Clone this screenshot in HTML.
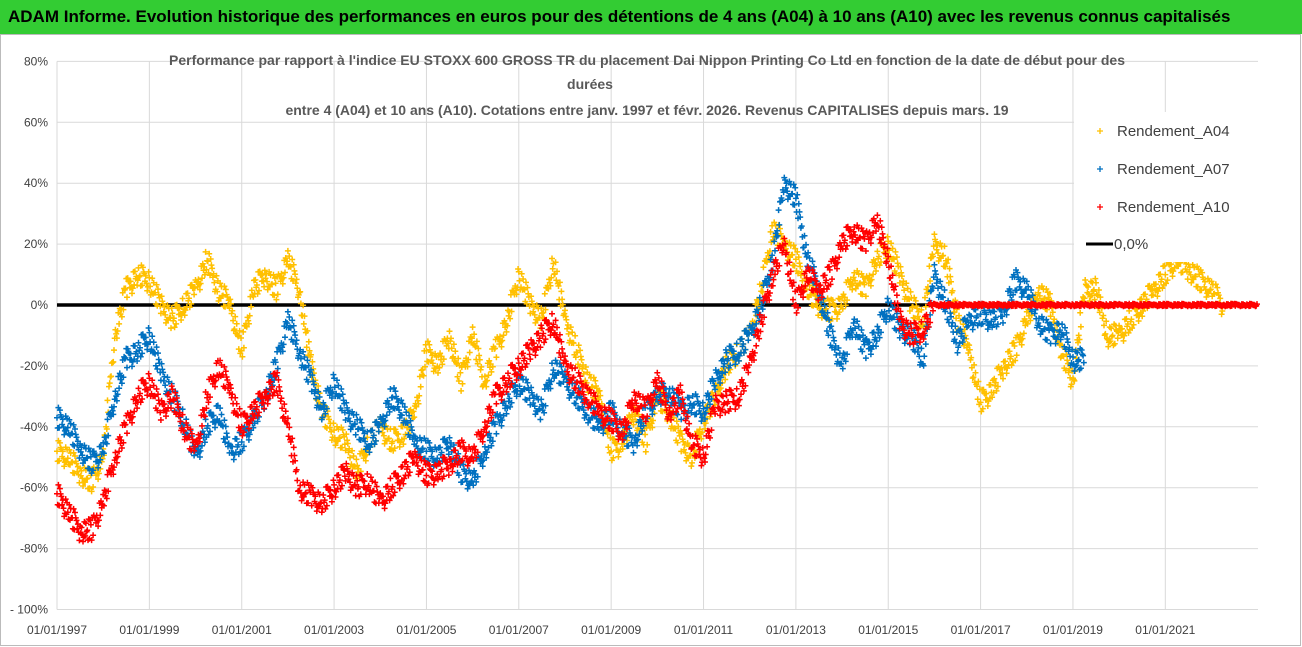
<!DOCTYPE html>
<html><head><meta charset="utf-8"><style>
body{margin:0;width:1302px;height:647px;overflow:hidden;background:#fff;font-family:"Liberation Sans",sans-serif}
#hdr{position:absolute;left:0;top:0;width:1302px;height:34px;background:#33cc33;font-weight:bold;font-size:17px;line-height:34px;padding-left:8px;box-sizing:border-box;white-space:nowrap}
svg{position:absolute;left:0;top:0}
</style></head><body>
<div id="hdr">ADAM Informe. Evolution historique des performances en euros pour des détentions de 4 ans (A04) à 10 ans (A10) avec les revenus connus capitalisés</div>
<svg id="c" width="1302" height="647"></svg>
<script>
const yTicks=[80,60,40,20,0,-20,-40,-60,-80,-100];
const xTickYears=[1997,1999,2001,2003,2005,2007,2009,2011,2013,2015,2017,2019,2021];
const seriesNames=["Rendement_A04","Rendement_A07","Rendement_A10"];
const startA04=1997, startA07=1997, startA10=1997;
const a04=[-48,-50,-55,-58,-50,-10,5,10,8,0,-5,0,5,15,5,0,-15,5,10,5,15,5,-20,-35,-42,-45,-55,-45,-40,-45,-42,-35,-15,-20,-10,-25,-10,-25,-15,-5,10,0,-5,15,-5,-15,-25,-30,-48,-45,-35,-45,-30,-35,-45,-50,-38,-30,-20,-15,-10,5,25,20,15,5,0,-2,0,10,5,15,20,10,0,-5,20,15,-5,-15,-32,-28,-20,-15,-5,5,0,-15,-25,5,5,-10,-10,-5,0,5,10,15,12,8,5,0];
const a07=[-37,-40,-47,-52,-48,-30,-18,-15,-10,-22,-30,-38,-50,-40,-35,-48,-45,-38,-30,-20,-5,-15,-25,-35,-25,-35,-40,-45,-40,-30,-35,-45,-48,-50,-45,-55,-58,-48,-40,-32,-25,-30,-35,-20,-25,-30,-35,-40,-35,-42,-45,-35,-30,-28,-35,-32,-35,-25,-18,-15,-10,0,15,40,35,15,5,-10,-20,-5,-15,-10,0,-8,-10,-18,10,0,-12,-5,-3,-5,-2,8,5,-5,-10,-8,-18];
const a10=[-62,-68,-74,-74,-65,-50,-40,-30,-25,-35,-30,-40,-48,-30,-20,-28,-40,-35,-30,-25,-40,-60,-63,-65,-60,-55,-60,-58,-65,-60,-55,-50,-56,-55,-52,-48,-50,-40,-30,-25,-20,-15,-10,-5,-20,-25,-30,-35,-38,-42,-30,-35,-25,-35,-30,-45,-50,-33,-32,-30,-20,-5,10,20,0,10,5,10,20,25,20,28,15,-5,-10,-8,0,0,0,0,0,0,0,0,0,0,0,0,0,0,0,0,0,0,0,0,0,0,0,0,0,0,0,0];
const NS='http://www.w3.org/2000/svg';
const svg=document.getElementById('c');
const X0=57,PX_YEAR=46.18,Y0=305,PX_PCT=3.045;
function xs(yr){return X0+(yr-1997)*PX_YEAR;}
function ys(v){return Y0-v*PX_PCT;}
function mk(tag,attrs){const e=document.createElementNS(NS,tag);for(const k in attrs)e.setAttribute(k,attrs[k]);svg.appendChild(e);return e;}
const bd=mk('rect',{x:0.5,y:34.5,width:1300,height:611,fill:'none',stroke:'#bbb'});


yTicks.forEach(t=>{
 const l=mk('line',{x1:X0,x2:1258,y1:ys(t),y2:ys(t),stroke:'#d9d9d9','stroke-width':1});
 
 
 const tx=mk('text',{x:48,y:ys(t)+4,'text-anchor':'end','font-size':12,fill:'#404040'});
 tx.textContent=(t===-100?'- 100%':t+'%');
 
 
});
xTickYears.forEach(yr=>{
 const l=mk('line',{x1:xs(yr),x2:xs(yr),y1:ys(80),y2:ys(-100),stroke:'#d9d9d9','stroke-width':1});
 
 
 const tx=mk('text',{x:xs(yr),y:634,'text-anchor':'middle','font-size':12,fill:'#404040'});
 tx.textContent='01/01/'+yr;
 
 
});
const z=mk('line',{x1:X0,x2:1258,y1:ys(0),y2:ys(0),stroke:'#000','stroke-width':3.5});


const jit=[0,5,-3,7,-6,2,-8,4,-2,6,-5,3,-7,1,8,-4];
function draw(arr,start,color,name){
 const g=mk('g',{stroke:color,'stroke-width':1.5});
 
 
 arr.forEach((v,i)=>{
  const nv=i+1<arr.length?arr[i+1]:v;
  const x1=xs(start+i*0.25),y1=ys(v),y2=ys(nv);
  const flat=(v===0&&nv===0);
  let d='';
  const N=16;
  for(let k=0;k<N;k++){
   const t=k/N;
   const x=x1+t*0.25*PX_YEAR;
   const y=y1+(y2-y1)*t+jit[(k*3+i)%jit.length]*(flat?0.15:1.4);
   d+=`M${(x-3).toFixed(1)},${y.toFixed(1)}h6M${x.toFixed(1)},${(y-3).toFixed(1)}v6`;
  }
  const p=document.createElementNS(NS,'path');p.setAttribute('d',d);g.appendChild(p);
  
  
 });
}
draw(a04,startA04,'#ffc000','series-a04');
draw(a07,startA07,'#0070c0','series-a07');
draw(a10,startA10,'#ff0000','series-a10');
const lb=mk('rect',{x:1074,y:112,width:190,height:150,fill:'#fff'});


const lcol=['#ffc000','#0070c0','#ff0000'];
seriesNames.forEach((n,i)=>{
 const y=131+i*38;
 const m=mk('path',{d:`M${1097},${y}h6M${1100},${y-3}v6`,stroke:lcol[i],'stroke-width':1.3});
 
 
 const t=mk('text',{x:1117,y:y+5,'font-size':15,fill:'#404040'});t.textContent=n;
 
 
});
const ll=mk('line',{x1:1086,x2:1113,y1:244,y2:244,stroke:'#000','stroke-width':3});


const lt=mk('text',{x:1114,y:249,'font-size':15,fill:'#404040'});lt.textContent='0,0%';


const titles=["Performance par rapport à l'indice EU STOXX 600 GROSS TR  du placement Dai Nippon Printing Co Ltd en fonction de la date de début pour des","durées","entre 4 (A04) et 10 ans (A10). Cotations entre janv. 1997 et févr. 2026. Revenus CAPITALISES depuis mars. 19"];
[[647,65],[590,89],[647,115]].forEach((p,i)=>{
 const t=mk('text',{x:p[0],y:p[1],'text-anchor':'middle','font-size':14,'font-weight':'bold',fill:'#595959'});
 t.textContent=titles[i];
 
 
});
</script>
</body></html>
